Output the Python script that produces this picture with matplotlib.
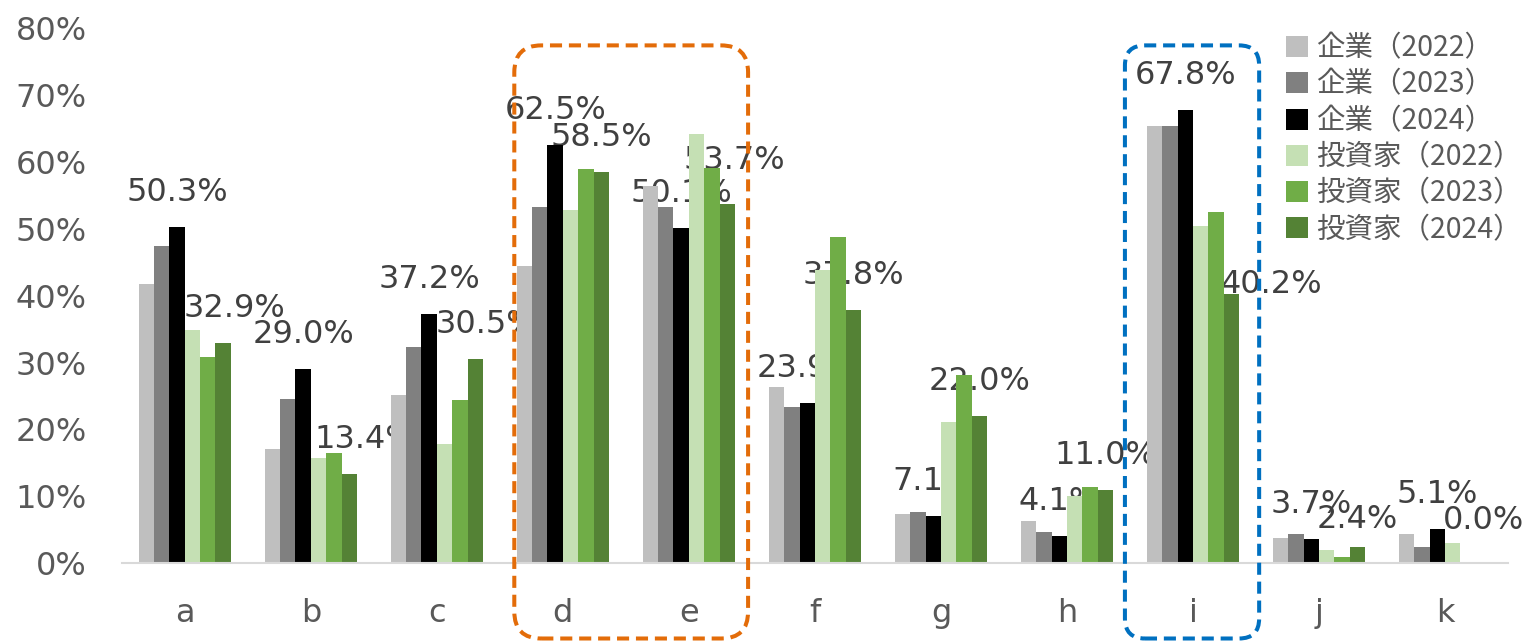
import numpy as np
import matplotlib
matplotlib.use("Agg")
import matplotlib.pyplot as plt
from matplotlib.patches import FancyBboxPatch
from matplotlib.transforms import IdentityTransform

# ── データ（%） ─────────────────────────────────────────
categories = ["a", "b", "c", "d", "e", "f", "g", "h", "i", "j", "k"]
corp_2022 = [41.8, 17.1, 25.1, 44.5, 56.4, 26.3, 7.4, 6.3, 65.3, 3.8, 4.4]
corp_2023 = [47.4, 24.6, 32.3, 53.2, 53.2, 23.3, 7.7, 4.7, 65.4, 4.4, 2.5]
corp_2024 = [50.3, 29.0, 37.2, 62.5, 50.1, 23.9, 7.1, 4.1, 67.8, 3.7, 5.1]
inv_2022 = [34.9, 15.7, 17.9, 52.8, 64.1, 43.9, 21.1, 10.1, 50.4, 2.0, 3.1]
inv_2023 = [30.8, 16.5, 24.4, 59.0, 59.1, 48.8, 28.2, 11.4, 52.5, 1.0, 0.0]
inv_2024 = [32.9, 13.4, 30.5, 58.5, 53.7, 37.8, 22.0, 11.0, 40.2, 2.4, 0.0]
series_names = ["企業（2022）", "企業（2023）", "企業（2024）",
                "投資家（2022）", "投資家（2023）", "投資家（2024）"]
yticks = [0, 10, 20, 30, 40, 50, 60, 70, 80]

# ── スタイル ─────────────────────────────────────────────
colors = ["#BFBFBF", "#808080", "#000000", "#C5E0B4", "#70AD47", "#548235"]
label_series = [2, 5]                  # ラベル付き系列（2024年）
# 投資家(2024)ラベルの手動ずらし（px）: {カテゴリ番号: (dx, dy)}
label_nudge = {0: (11, 0), 1: (16, 0), 2: (11, 0), 4: (7, 9),
               8: (40, -25), 9: (0, -7), 10: (0, 8)}

fig = plt.figure(figsize=(15.27, 6.42), dpi=100)
ax = fig.add_axes([0.0797, 0.1226, 0.9079, 0.8338])

data = [corp_2022, corp_2023, corp_2024, inv_2022, inv_2023, inv_2024]
x = np.arange(len(categories))
w = 0.122
bars = []
for i, vals in enumerate(data):
    b = ax.bar(x + (i - 2.5) * w, vals, w, color=colors[i],
               label=series_names[i], zorder=2)
    bars.append(b)

ax.set_xlim(-0.5, len(categories) - 0.5)
ax.set_ylim(0, 80)
ax.set_xticks(x)
ax.set_xticklabels(categories)
ax.set_yticks(yticks)
ax.set_yticklabels([f"{t}%" for t in yticks])
ax.tick_params(axis="both", length=0, labelsize=23, colors="#595959")
ax.tick_params(axis="y", pad=25)
ax.tick_params(axis="x", pad=25)
for s in ["top", "right", "left"]:
    ax.spines[s].set_visible(False)
ax.spines["bottom"].set_color("#D9D9D9")
ax.spines["bottom"].set_linewidth(1.5)
ax.spines["bottom"].set_zorder(3)

# データラベル（棒の後ろに描く）
for si in label_series:
    for j, v in enumerate(data[si]):
        dx, dy = (0, 0)
        if si == 5:
            dx, dy = label_nudge.get(j, (0, 0))
        ax.annotate(f"{v:.1f}%", (x[j] + (si - 2.5) * w, v),
                    xytext=(dx, 26 + dy), textcoords="offset pixels",
                    ha="center", va="baseline", fontsize=23,
                    color="#404040", zorder=1)

# 凡例
fig.legend(handles=bars, loc="upper left", bbox_to_anchor=(0.833, 0.97),
           frameon=False, borderpad=0, handlelength=0.75, handleheight=0.75,
           handletextpad=0.3, labelspacing=0.22, labelcolor="#595959",
           prop={"family": ["Noto Sans CJK JP", "DejaVu Sans"], "size": 20.5})

# 点線の角丸枠（カテゴリ位置から算出）
def dashed_box(x0, x1, color, radius):
    fig.canvas.draw()
    (px0, py0) = ax.transData.transform((x0, 77.4))
    (px1, _) = ax.transData.transform((x1, 77.4))
    py1 = 3.5
    box = FancyBboxPatch((px0, py1), px1 - px0, py0 - py1,
                         boxstyle=f"round,pad=0,rounding_size={radius}",
                         transform=IdentityTransform(), fill=False,
                         edgecolor=color, linewidth=2.9,
                         linestyle=(0, (3, 1.7)), zorder=5)
    fig.add_artist(box)

dashed_box(2.615, 4.47, "#E36C09", 27)
dashed_box(7.46, 8.525, "#0070C0", 20)

fig.savefig("out.png", dpi=100)
